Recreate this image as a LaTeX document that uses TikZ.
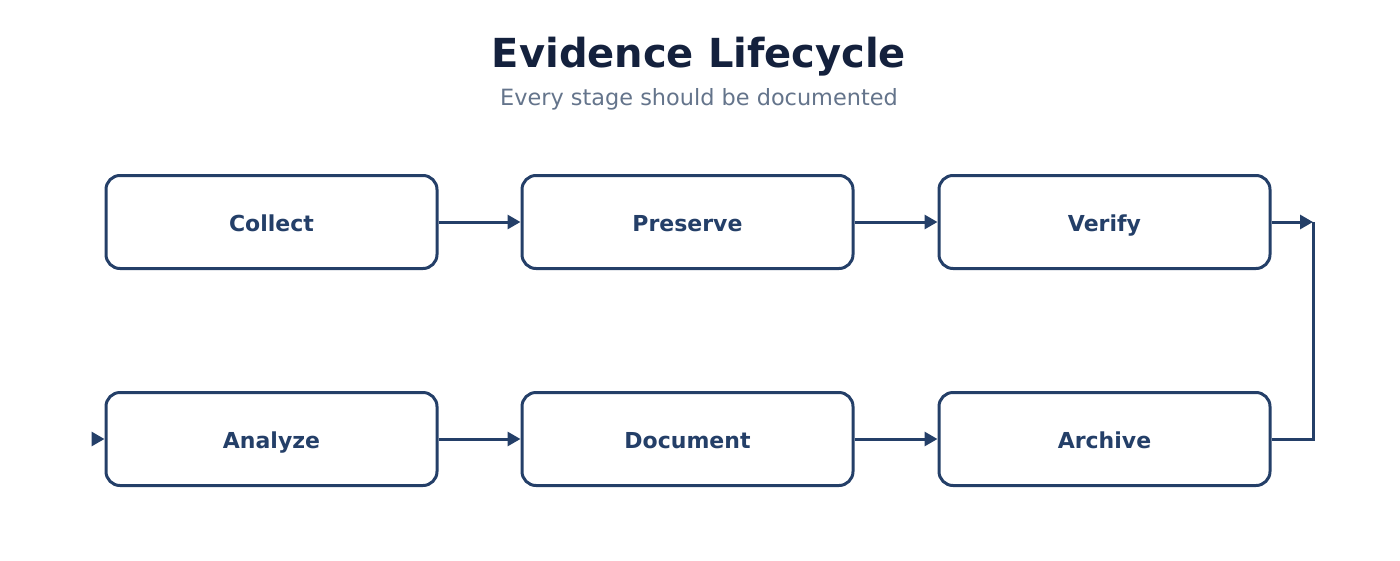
\documentclass[tikz,border=0pt]{standalone}
\usepackage{fontspec}
\setmainfont{DejaVu Sans}
\usetikzlibrary{arrows.meta}
\definecolor{navy}{HTML}{243F68}
\definecolor{titlec}{HTML}{14213D}
\definecolor{subc}{HTML}{64748B}
\tikzset{
  stage/.style={draw=navy, line width=3pt, rounded corners=14pt, fill=white,
    minimum width=331pt, minimum height=93pt, inner sep=0pt,
    font=\fontsize{22}{26}\selectfont\bfseries, text=navy,
    text height=24pt, text depth=5pt},
  flow/.style={draw=navy, line width=3pt, -{Triangle[length=13pt,width=14pt]}},
  plainflow/.style={draw=navy, line width=3pt},
}
\begin{document}
\begin{tikzpicture}[x=1pt,y=-1pt]
\useasboundingbox (0,0) rectangle (1400,560);
\node[anchor=base, text=titlec, font=\fontsize{40}{48}\selectfont\bfseries] (title) at (699,67) {Evidence Lifecycle};
\node[anchor=base, text=subc, font=\fontsize{22.4}{27}\selectfont] (subtitle) at (699,105) {Every stage should be documented};

\node[stage] (collect) at (271.5,222) {Collect};
\node[stage] (preserve) at (687.5,222) {Preserve};
\node[stage] (verify) at (1104.5,222) {Verify};
\node[stage] (analyze) at (271.5,439) {Analyze};
\node[stage] (document) at (687.5,439) {Document};
\node[stage] (archive) at (1104.5,439) {Archive};

\coordinate (vcorner) at (1313,222);
\coordinate (ain) at (92,439);

\draw[flow] (collect.east) -- (preserve.west);
\draw[flow] (preserve.east) -- (verify.west);
\draw[flow] (verify.east) -- (vcorner);
\draw[plainflow] (archive.east) -| (vcorner);
\draw[flow] (analyze.east) -- (document.west);
\draw[flow] (document.east) -- (archive.west);
\draw[flow] (ain) -- (analyze.west);
\end{tikzpicture}
\end{document}
